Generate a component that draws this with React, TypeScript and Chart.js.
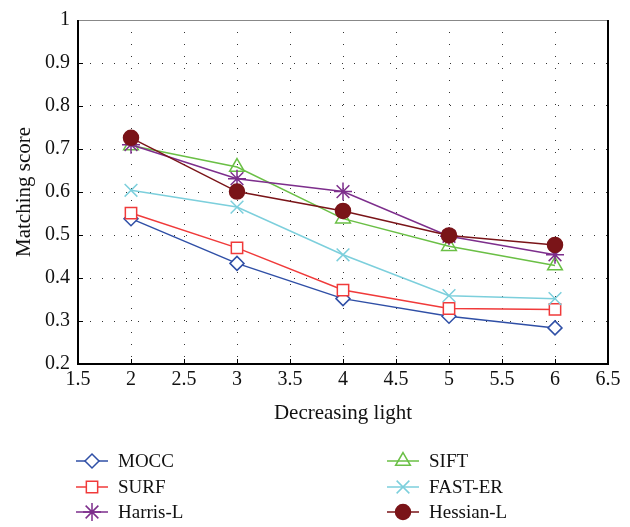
import React, { useEffect, useRef } from 'react';
import { Chart, registerables } from 'chart.js';
import { drawPoint } from 'chart.js/helpers';

Chart.register(...registerables);

// ---- data ----
const xValues = [2, 3, 4, 5, 6];
const seriesNames = ['MOCC', 'SURF', 'Harris-L', 'SIFT', 'FAST-ER', 'Hessian-L'];
const moccValues = [0.538, 0.434, 0.352, 0.311, 0.284];
const surfValues = [0.551, 0.47, 0.372, 0.329, 0.327];
const harrisValues = [0.71, 0.631, 0.601, 0.497, 0.454];
const siftValues = [0.708, 0.658, 0.538, 0.474, 0.429];
const fastErValues = [0.604, 0.565, 0.454, 0.359, 0.352];
const hessianValues = [0.726, 0.601, 0.556, 0.499, 0.477];
const xTickValues = [1.5, 2, 2.5, 3, 3.5, 4, 4.5, 5, 5.5, 6, 6.5];
const xTickLabels = ['1.5', '2', '2.5', '3', '3.5', '4', '4.5', '5', '5.5', '6', '6.5'];
const yTickValues = [0.2, 0.3, 0.4, 0.5, 0.6, 0.7, 0.8, 0.9, 1];
const yTickLabels = ['0.2', '0.3', '0.4', '0.5', '0.6', '0.7', '0.8', '0.9', '1'];
const xTitle = 'Decreasing light';
const yTitle = 'Matching score';

// ---- styles ----
const seriesValues = [moccValues, surfValues, harrisValues, siftValues, fastErValues, hessianValues];
const colors = ['#2f4fa6', '#f03a3a', '#7d2e8c', '#6abf45', '#7ccfdc', '#7a1418'];
const pointStyles = ['rectRot', 'rect', 'star', 'triangle', 'crossRot', 'circle'];
const pointRadii = [7, 8, 9, 8.5, 9, 7.5];
const fills = ['#ffffff', '#ffffff', '#ffffff', 'rgba(255,255,255,0)', '#ffffff', '#7a1418'];
const drawOrder = [5, 4, 1, 3, 2, 0];
const FONT = '"Liberation Serif", "DejaVu Serif", serif';

const legendPos = [
  { x: 92, y: 461 },
  { x: 92, y: 487 },
  { x: 92, y: 512 },
  { x: 403, y: 461 },
  { x: 403, y: 487 },
  { x: 403, y: 512 },
];

const framePlugin = {
  id: 'frameAndLegend',
  afterDatasetsDraw(chart: any) {
    const { ctx, chartArea } = chart;
    const xs = chart.scales.x;
    const ys = chart.scales.y;
    ctx.save();
    // inner ticks
    ctx.strokeStyle = '#000';
    ctx.lineWidth = 1;
    ctx.beginPath();
    xTickValues.forEach((v) => {
      const px = Math.round(xs.getPixelForValue(v)) + 0.5;
      ctx.moveTo(px, chartArea.bottom);
      ctx.lineTo(px, chartArea.bottom - 5);
    });
    yTickValues.forEach((v) => {
      const py = Math.round(ys.getPixelForValue(v)) + 0.5;
      ctx.moveTo(chartArea.left, py);
      ctx.lineTo(chartArea.left + 5, py);
    });
    ctx.stroke();
    // frame
    ctx.lineWidth = 1;
    ctx.strokeStyle = '#888';
    ctx.beginPath();
    ctx.moveTo(chartArea.left, chartArea.top + 0.5);
    ctx.lineTo(chartArea.right, chartArea.top + 0.5);
    ctx.stroke();
    ctx.lineWidth = 2;
    ctx.strokeStyle = '#000';
    ctx.beginPath();
    ctx.moveTo(chartArea.left, chartArea.top);
    ctx.lineTo(chartArea.left, chartArea.bottom);
    ctx.lineTo(chartArea.right, chartArea.bottom);
    ctx.lineTo(chartArea.right, chartArea.top);
    ctx.stroke();
    ctx.restore();
  },
  afterDraw(chart: any) {
    const { ctx } = chart;
    ctx.save();
    chart.data.datasets.forEach((ds: any, i: number) => {
      const p = legendPos[i];
      ctx.strokeStyle = ds.borderColor;
      ctx.lineWidth = 1.5;
      ctx.beginPath();
      ctx.moveTo(p.x - 16, p.y);
      ctx.lineTo(p.x + 16, p.y);
      ctx.stroke();
      ctx.fillStyle = ds.pointBackgroundColor;
      ctx.strokeStyle = ds.borderColor;
      ctx.lineWidth = 1.5;
      drawPoint(ctx, { pointStyle: ds.pointStyle, rotation: 0, radius: ds.pointRadius, borderWidth: 1.5 }, p.x, p.y);
      ctx.fillStyle = '#111';
      ctx.font = '19px ' + FONT;
      ctx.textAlign = 'left';
      ctx.textBaseline = 'middle';
      ctx.fillText(ds.label, p.x + 26, p.y + 1);
    });
    ctx.restore();
  },
};

export default function App() {
  const ref = useRef<HTMLCanvasElement | null>(null);
  useEffect(() => {
    const canvas = ref.current;
    if (!canvas) return;
    const datasets = seriesNames.map((name, i) => ({
      label: name,
      data: xValues.map((x, j) => ({ x, y: seriesValues[i][j] })),
      borderColor: colors[i],
      backgroundColor: colors[i],
      pointBackgroundColor: fills[i],
      pointBorderColor: colors[i],
      pointStyle: pointStyles[i],
      pointRadius: pointRadii[i],
      pointBorderWidth: 1.5,
      borderWidth: 1.5,
      tension: 0,
      fill: false,
      order: drawOrder[i],
    }));
    const chart = new Chart(canvas, {
      type: 'line',
      data: { datasets },
      plugins: [framePlugin],
      options: {
        animation: false,
        responsive: false,
        devicePixelRatio: 1,
        layout: { padding: { top: 11, right: 22, left: 0, bottom: 97 } },
        plugins: { legend: { display: false }, tooltip: { enabled: false } },
        scales: {
          x: {
            type: 'linear',
            min: 1.5,
            max: 6.5,
            afterBuildTicks: (s: any) => {
              s.ticks = xTickValues.map((v) => ({ value: v }));
            },
            afterFit: (s: any) => {
              s.height = 66;
            },
            ticks: {
              autoSkip: false,
              maxRotation: 0,
              padding: 4,
              color: '#111',
              font: { family: FONT, size: 20 },
              callback: (v: any) => {
                const k = xTickValues.indexOf(Number(v));
                return k >= 0 ? xTickLabels[k] : '';
              },
            },
            grid: { color: '#333', lineWidth: 1, drawTicks: false },
            border: { display: false, dash: [1, 11] },
            title: { display: true, text: xTitle, color: '#111', font: { family: FONT, size: 21 }, padding: { top: 4, bottom: 4 } },
          },
          y: {
            type: 'linear',
            min: 0.2,
            max: 1,
            afterBuildTicks: (s: any) => {
              s.ticks = yTickValues.map((v) => ({ value: v }));
            },
            afterFit: (s: any) => {
              s.width = 78;
            },
            ticks: {
              autoSkip: false,
              padding: 8,
              color: '#111',
              font: { family: FONT, size: 20 },
              callback: (v: any) => {
                const k = yTickValues.findIndex((t) => Math.abs(t - Number(v)) < 1e-9);
                return k >= 0 ? yTickLabels[k] : '';
              },
            },
            grid: { color: '#333', lineWidth: 1, drawTicks: false },
            border: { display: false, dash: [1, 11] },
            title: { display: true, text: yTitle, color: '#111', font: { family: FONT, size: 21 }, padding: { top: 12, bottom: 4 } },
          },
        },
      },
    } as any);
    return () => chart.destroy();
  }, []);
  return (
    <div style={{ position: 'absolute', left: 0, top: 0, width: 630, height: 527, background: '#fff' }}>
      <canvas ref={ref} width={630} height={527} style={{ display: 'block' }} />
    </div>
  );
}
